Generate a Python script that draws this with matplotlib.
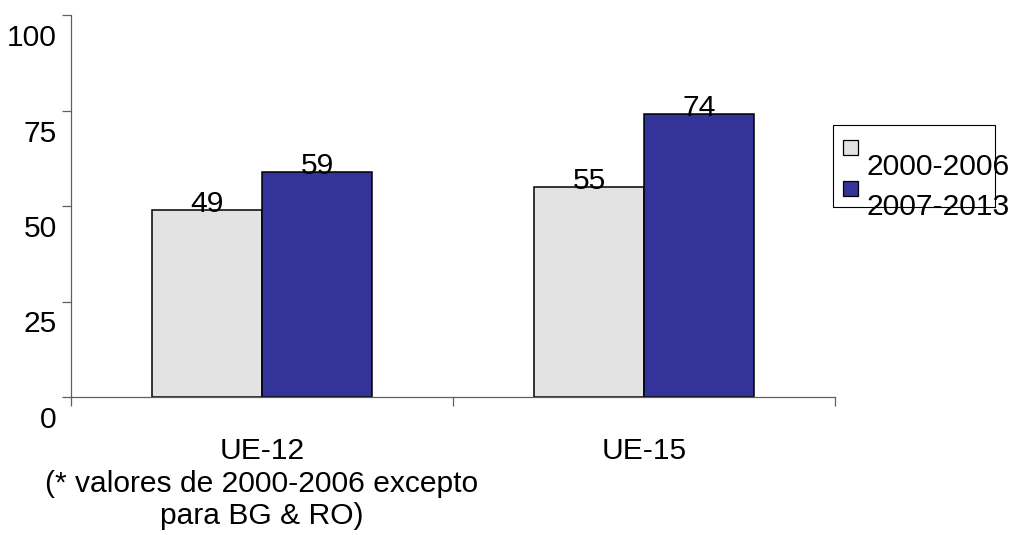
import matplotlib.pyplot as plt
import matplotlib.transforms as mtransforms
from matplotlib.patches import Rectangle
import numpy as np

plt.rcParams['font.family'] = ['Liberation Sans', 'DejaVu Sans']

categories = ["UE-12\n(* valores de 2000-2006 excepto\npara BG & RO)", "UE-15"]
series_names = ["2000-2006", "2007-2013"]
values_2000_2006 = [49, 55]
values_2007_2013 = [59, 74]
y_ticks = [0, 25, 50, 75, 100]

colors = ["#E3E3E3", "#333399"]
axis_color = "#606060"
fs = 21.6

W, H = 1017, 535
fig = plt.figure(figsize=(W / 100, H / 100), dpi=100)

def fx(px):
    return px / W

def fy(py):
    return 1 - py / H

ax = fig.add_axes([fx(71), fy(397), fx(835) - fx(71), fy(15) - fy(397)])

x = np.arange(len(categories))
width = 0.288
bars1 = ax.bar(x - width, values_2000_2006, width, align="edge",
               color=colors[0], edgecolor="black", linewidth=1.1)
bars2 = ax.bar(x, values_2007_2013, width, align="edge",
               color=colors[1], edgecolor="black", linewidth=1.1)

# value labels sit right on the bar tops
lab_off = mtransforms.ScaledTranslation(0, -2 / 100, fig.dpi_scale_trans)
for bars, vals in ((bars1, values_2000_2006), (bars2, values_2007_2013)):
    for b, v in zip(bars, vals):
        ax.text(b.get_x() + b.get_width() / 2, v, str(v), ha="center",
                va="baseline", fontsize=fs, transform=ax.transData + lab_off)

ax.set_xlim(-0.5, 1.5)
ax.set_ylim(0, 100)

for s in ("top", "right"):
    ax.spines[s].set_visible(False)
for s in ("left", "bottom"):
    ax.spines[s].set_color(axis_color)
    ax.spines[s].set_linewidth(0.9)

ax.set_yticks(y_ticks)
ax.set_yticklabels([str(t) for t in y_ticks])
ax.tick_params(axis="y", direction="out", length=6.5, width=0.9,
               color=axis_color, pad=3.6, labelsize=fs)
ylab_off = mtransforms.ScaledTranslation(0, -20 / 100, fig.dpi_scale_trans)
for lbl in ax.get_yticklabels():
    lbl.set_transform(lbl.get_transform() + ylab_off)

# category separators as major ticks, names as minor ticks
ax.set_xticks([-0.5, 0.5, 1.5])
ax.set_xticklabels([])
ax.set_xticks(x, minor=True)
ax.set_xticklabels(categories, minor=True, fontsize=fs, va="top")
ax.tick_params(axis="x", which="major", direction="out", length=6.5,
               width=0.9, color=axis_color)
ax.tick_params(axis="x", which="minor", length=0, pad=29)

# legend box with the text running past its border
fig.add_artist(Rectangle((fx(833), fy(207)), fx(995) - fx(833), fy(125) - fy(207),
                         transform=fig.transFigure, fill=False,
                         edgecolor="black", linewidth=0.8))
for i, (name, c) in enumerate(zip(series_names, colors)):
    top = 140 + i * 41
    fig.add_artist(Rectangle((fx(843), fy(top + 15)), fx(858) - fx(843), fy(top) - fy(top + 15),
                             transform=fig.transFigure, facecolor=c,
                             edgecolor="black", linewidth=0.9))
    fig.text(fx(867), fy(175 + i * 40), name, fontsize=fs, va="baseline", ha="left")

fig.savefig("out.png", dpi=100)
